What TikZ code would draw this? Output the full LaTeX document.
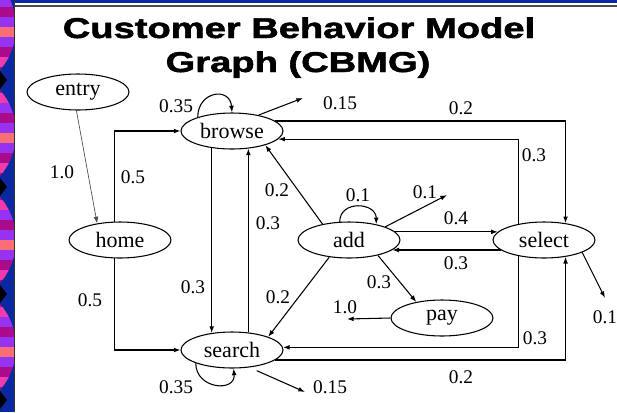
\documentclass[tikz,border=0pt]{standalone}
\usepackage{fontspec}
\setmainfont{Liberation Serif}
\newfontfamily\headfont{Liberation Sans}[BoldFeatures={FakeBold=1.6}]
\usetikzlibrary{arrows.meta,shapes.geometric}

\definecolor{slideblue}{RGB}{10,40,160}
\definecolor{blobpink}{RGB}{240,60,170}
\definecolor{blobpurple}{RGB}{150,50,240}
\definecolor{blobsalmon}{RGB}{250,110,120}
\definecolor{blobdark}{RGB}{170,10,140}

\tikzset{every picture/.style={line width=0.8pt}}
\tikzset{
  state/.style={draw, ellipse, minimum width=76.5pt, minimum height=27pt, inner sep=0pt,
    font=\fontsize{16.5}{17}\selectfont},
  prob/.style={inner sep=0.75pt, font=\fontsize{14.5}{15}\selectfont},
  tip/.style={-{Latex[length=5pt,width=3.6pt]}},
  headline/.style={anchor=base, inner sep=0pt, font=\headfont\bfseries\fontsize{21.5}{22}\selectfont},
}

\begin{document}
\begin{tikzpicture}[x=0.75pt,y=0.75pt,yscale=-1,xscale=1]
\useasboundingbox (0,0) rectangle (617,412);

%Slide border: strip on the left and bar on top
\fill [slideblue] (0,0) rectangle (14.5,412);
\fill [slideblue] (14.5,0) rectangle (617,2.5);
\begin{scope}
  \clip (0,0) rectangle (14.5,412);
  \foreach \yc in {27,133,240,347} {
    \begin{scope}
      \clip (-50,\yc) circle (66);
      \foreach \col [count=\k] in {blobdark,blobpink,blobpurple,blobdark,blobpurple,blobsalmon,blobpurple,blobdark,blobpink,blobdark} {
        \fill [\col] (0,\yc-50+\k*10-10) rectangle (15,\yc-50+\k*10);
      }
    \end{scope}
  }
  \foreach \yd in {80,187,294,400} {
    \fill [black] (0,\yd-9) -- (7,\yd) -- (0,\yd+9) -- cycle;
  }
\end{scope}
\draw [line width=1.2pt, black!80] (14.5,0) -- (14.5,412);
\draw [line width=1.5pt, black!70] (15,5.5) -- (617,5.5);

% Title
\node [headline] (head1) at (299,38) {\scalebox{1.33}[1]{Customer Behavior Model}};
\node [headline] (head2) at (298,72) {\scalebox{1.33}[1]{Graph (CBMG)}};

%Shape: Ellipse
\node [state] (entry) at (78,92) {entry};
\node [state] (home) at (120,240) {home};
\node [state] (browse) at (232,131) {browse};
\node [state] (search) at (232,350) {search};
\node [state] (add) at (349,240) {add};
\node [state] (select) at (544,240) {select};
\node [state] (pay) at (442,318) {pay};

% Exit points
\coordinate (outB) at (303,98);
\coordinate (outS) at (305,392);
\coordinate (outA) at (447,195);
\coordinate (outP) at (347,319);
\coordinate (outL) at (605,298);

%Straight Lines
\draw [tip, line width=0.5pt, black!70] (entry.265) -- (home.144);
\draw [tip] (home.106) |- (browse.west);
\draw [tip] (home.254) |- (search.west);
\draw [tip] (browse.220) -- (search.140);
\draw [tip] (search.47) -- (browse.313);
\draw [tip] (browse.13) -| (select.38);
\draw [tip] (select.148) |- (browse.350);
\draw [tip] (select.212) |- (search.3);
\draw [tip] (search.347) -| (select.322);
\draw [tip] (add.149) -- (browse.337);
\draw [tip] (add.221) -- (search.20);
\draw [tip] (add.10) -- (select.170);
\draw [tip] (select.193) -- (add.347);
\draw [tip] (add.332) -- (pay.148);
\draw [tip] (pay.west) -- (outP);
\draw [tip] (add.20) -- (outA);
\draw [tip] (browse.31) -- (outB);
\draw [tip, shorten <=6pt] (search.315) -- (outS);
\draw [tip] (select.342) -- (outL);

%Curve Lines
\draw [tip] (browse.158) .. controls +(0,-26) and +(-2,-26) .. (browse.north);
\draw [tip] (search.200) .. controls +(0,26) and +(2,24) .. (search.275);
\draw [tip] (add.117) .. controls +(0,-22) and +(0,-22) .. (add.30);

% Text Node
\node [prob] (pEntryHome) at (62,172) {1.0};
\node [prob] (pHomeBrowse) at (133,177) {0.5};
\node [prob] (pHomeSearch) at (90,300) {0.5};
\node [prob] (pBrowseLoop) at (176,106) {0.35};
\node [prob] (pBrowseOut) at (340,103) {0.15};
\node [prob] (pBrowseSelect) at (461,108) {0.2};
\node [prob] (pSelectBrowse) at (534,155) {0.3};
\node [prob] (pBrowseSearch) at (193,287) {0.3};
\node [prob] (pSearchBrowse) at (268,223) {0.3};
\node [prob] (pAddBrowse) at (277,190) {0.2};
\node [prob] (pAddSearch) at (278,297) {0.2};
\node [prob] (pAddLoop) at (358,195) {0.1};
\node [prob] (pAddOut) at (425,192) {0.1};
\node [prob] (pAddSelect) at (456,218) {0.4};
\node [prob] (pSelectAdd) at (456,263) {0.3};
\node [prob] (pAddPay) at (379,282) {0.3};
\node [prob] (pPayOut) at (345,307) {1.0};
\node [prob] (pSelectSearch) at (535,338) {0.3};
\node [prob] (pSearchSelect) at (461,377) {0.2};
\node [prob] (pSelectOut) at (605,317) {0.1};
\node [prob] (pSearchLoop) at (176,387) {0.35};
\node [prob] (pSearchOut) at (330,387) {0.15};

\end{tikzpicture}
\end{document}
